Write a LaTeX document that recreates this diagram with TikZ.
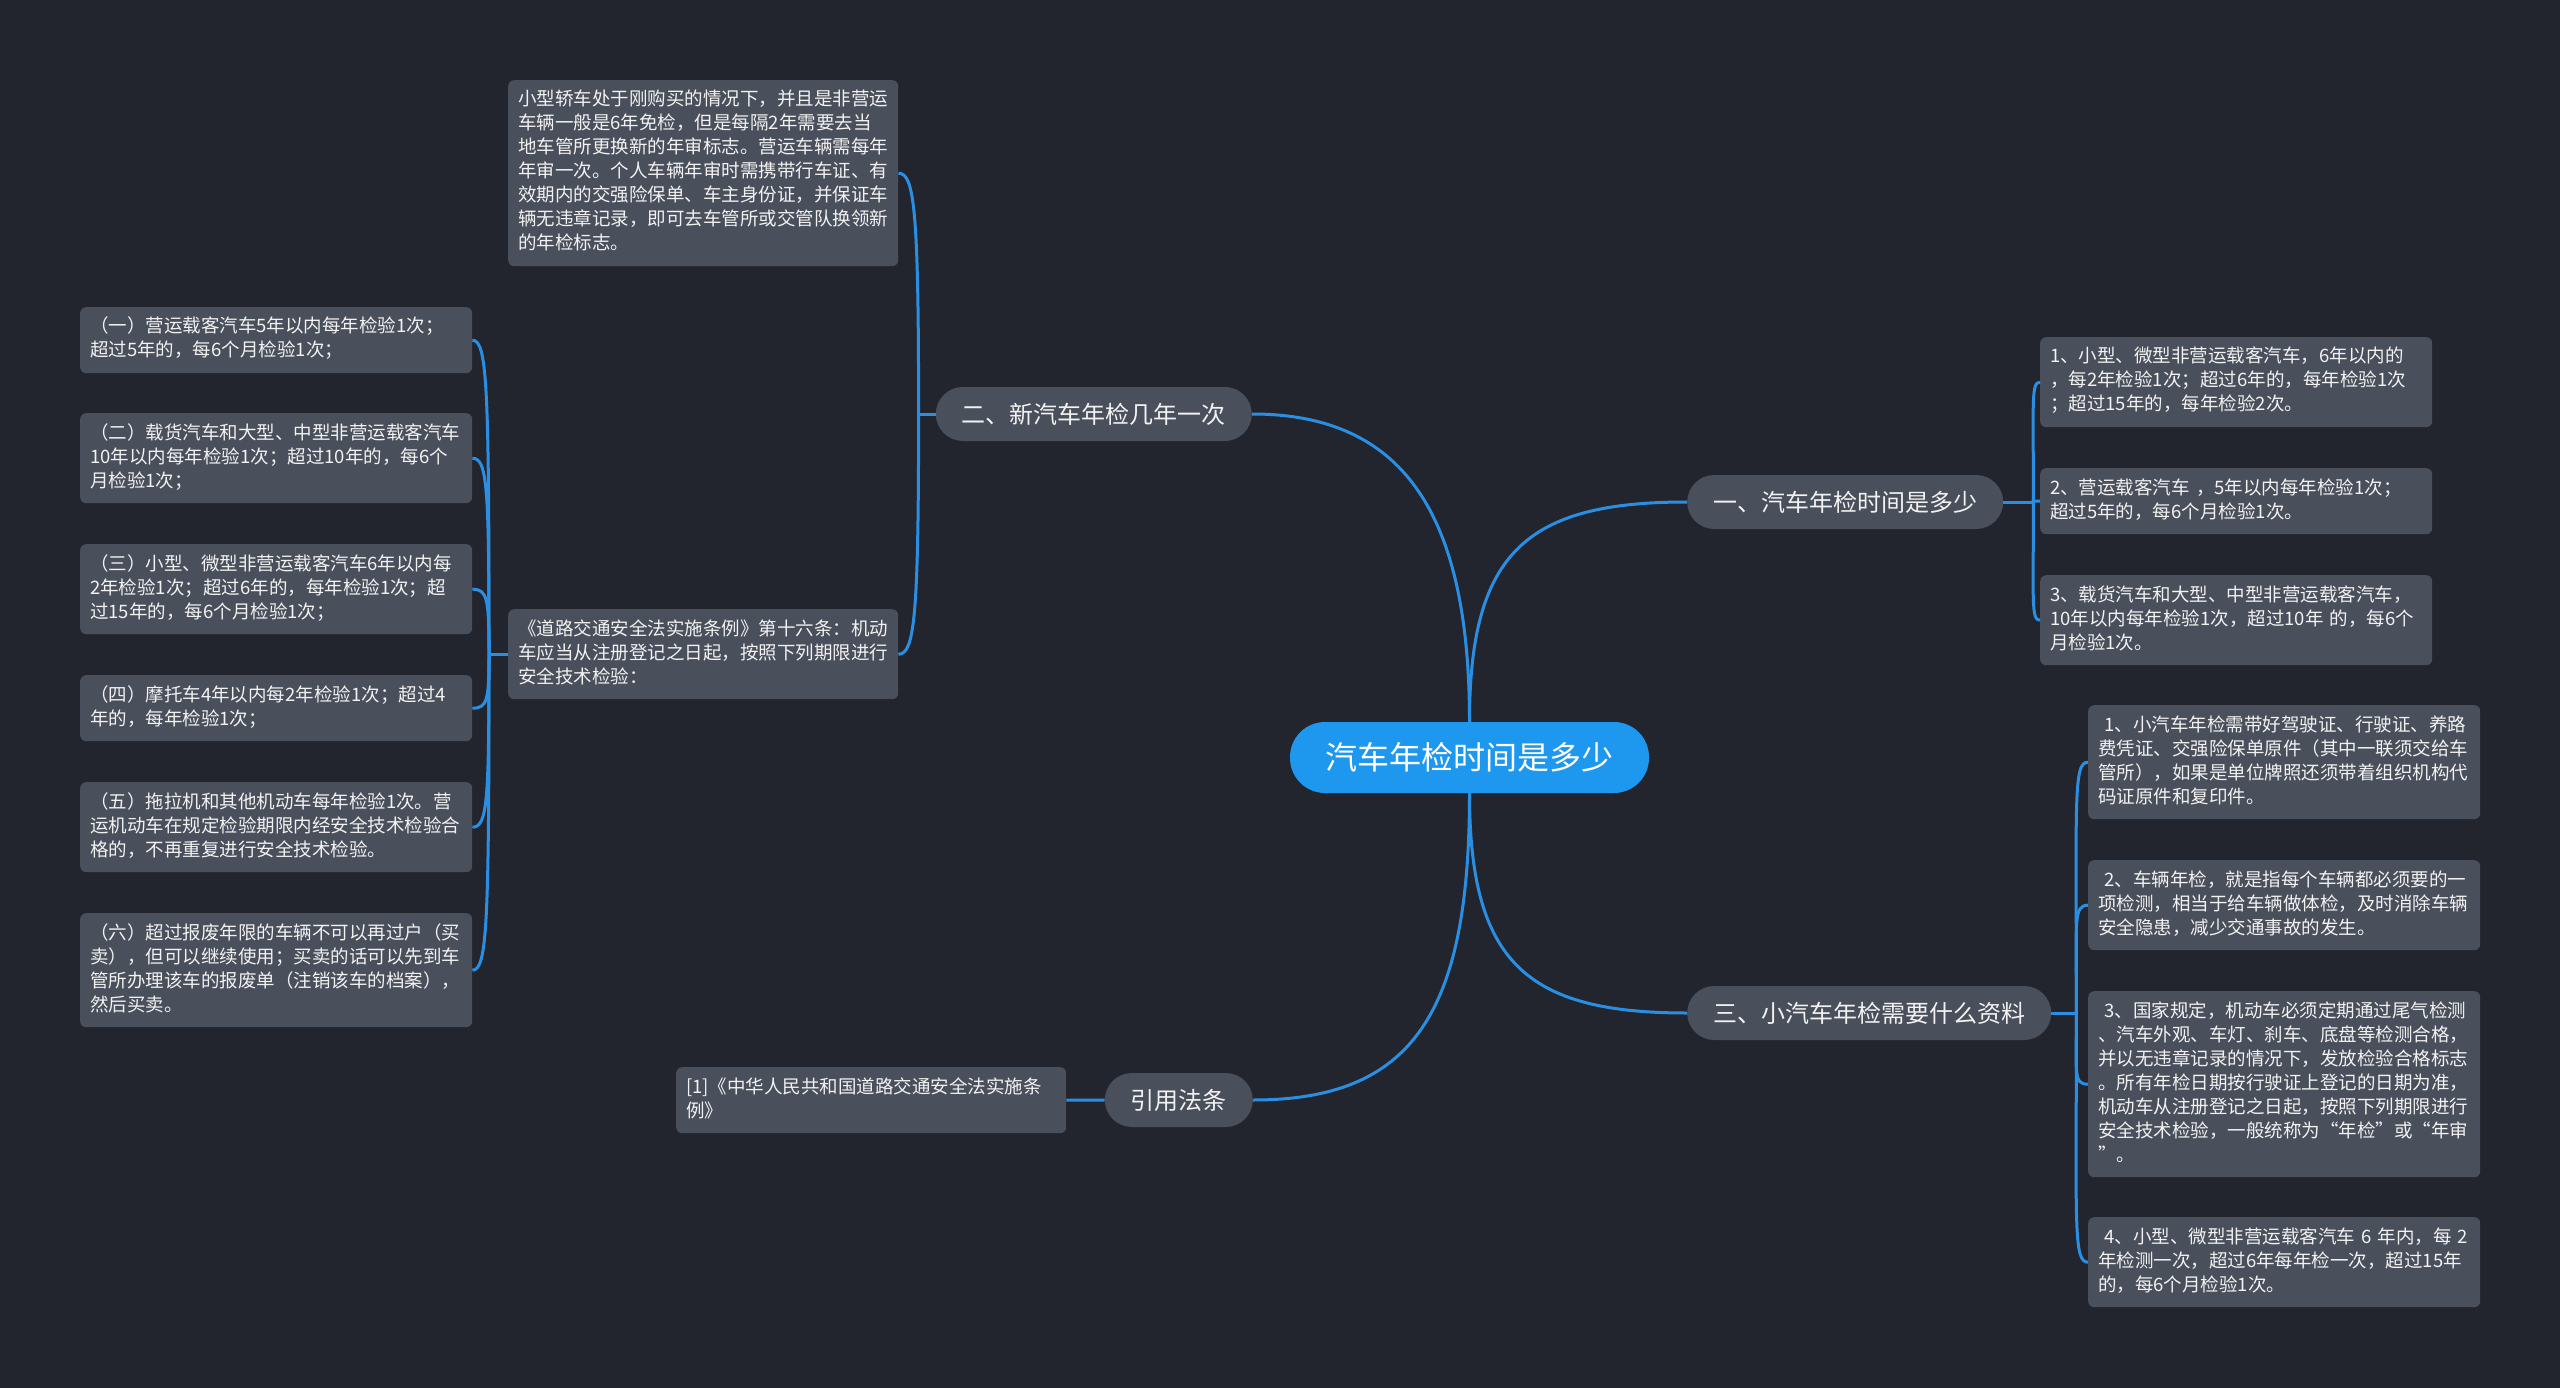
\documentclass[tikz,border=0pt]{standalone}
\usepackage{fontspec}
\usetikzlibrary{calc}
\newfontfamily\cjk{Noto Sans CJK SC}
\definecolor{bgc}{HTML}{22252E}
\definecolor{boxc}{HTML}{4A4F5C}
\definecolor{rootc}{HTML}{1E98EE}
\definecolor{linec}{HTML}{2A8FE3}
\definecolor{txtc}{HTML}{F2F2F2}
\begin{document}
\begin{tikzpicture}[x=1pt,y=-1pt,
	leaf/.style={fill=boxc, rounded corners=6pt, anchor=north west, text width=372pt, inner xsep=10pt, inner ysep=9pt, align=left, text=txtc, font=\cjk\fontsize{18.5}{24}\selectfont, execute at begin node=\strut, execute at end node=\strut},
	topic/.style={fill=boxc, rounded corners=27pt, minimum height=54pt, inner xsep=26pt, text=txtc, font=\cjk\fontsize{24}{28}\selectfont},
	root/.style={fill=rootc, rounded corners=35pt, minimum height=71pt, minimum width=359pt, text=white, font=\cjk\fontsize{32}{36}\selectfont},
	link/.style={draw=linec, line width=3pt}]
	\fill[bgc] (0,0) rectangle (2560,1388);
	\useasboundingbox (0,0) rectangle (2560,1388);
	
	% centre and main branches
	\node[root] (car) at (1469.5,757.5) {汽车年检时间是多少};
	\node[topic, anchor=west] (time) at (1687,502) {一、汽车年检时间是多少};
	\node[topic, anchor=east] (new) at (1252,414) {二、新汽车年检几年一次};
	\node[topic, anchor=west] (docs) at (1687,1013) {三、小汽车年检需要什么资料};
	\node[topic, anchor=east] (law) at (1253,1100) {引用法条};
	
	\draw[link] (car.north) .. controls +(0,-170) and +(-160,0) .. (time.west);
	\draw[link] (car.north) .. controls +(0,-210) and +(150,0) .. (new.east);
	\draw[link] (car.south) .. controls +(0,170) and +(-160,0) .. (docs.west);
	\draw[link] (car.south) .. controls +(0,220) and +(160,0) .. (law.east);
	
	% branch one
	\node[leaf] (t1) at (2040,337) {1、小型、微型非营运载客汽车，6年以内的\\，每2年检验1次；超过6年的，每年检验1次\\；超过15年的，每年检验2次。};
	\node[leaf] (t2) at (2040,468) {2、营运载客汽车 ，5年以内每年检验1次；\\超过5年的，每6个月检验1次。};
	\node[leaf] (t3) at (2040,575) {3、载货汽车和大型、中型非营运载客汽车，\\10年以内每年检验1次，超过10年 的，每6个\\月检验1次。};
	\coordinate (jt) at ([xshift=30pt]time.east);
	\draw[link] (time.east) -- (jt);
	\foreach \n in {t1,t2,t3}
		\draw[link] (jt) .. controls ($(jt)!.85!(jt |- \n.west)$) and ([xshift=-9pt]\n.west) .. (\n.west);
	
	% branch two
	\node[leaf, text width=370pt] (n1) at (508,80) {小型轿车处于刚购买的情况下，并且是非营运\\车辆一般是6年免检，但是每隔2年需要去当\\地车管所更换新的年审标志。营运车辆需每年\\年审一次。个人车辆年审时需携带行车证、有\\效期内的交强险保单、车主身份证，并保证车\\辆无违章记录，即可去车管所或交管队换领新\\的年检标志。};
	\node[leaf, text width=370pt] (n2) at (508,609) {《道路交通安全法实施条例》第十六条：机动\\车应当从注册登记之日起，按照下列期限进行\\安全技术检验：};
	\coordinate (jn) at ([xshift=-17pt]new.west);
	\draw[link] (new.west) -- (jn);
	\foreach \n in {n1,n2}
		\draw[link] (jn) .. controls ($(jn)!.85!(jn |- \n.east)$) and ([xshift=16pt]\n.east) .. (\n.east);
	
	\node[leaf] (a1) at (80,307) {（一）营运载客汽车5年以内每年检验1次；\\超过5年的，每6个月检验1次；};
	\node[leaf] (a2) at (80,413) {（二）载货汽车和大型、中型非营运载客汽车\\10年以内每年检验1次；超过10年的，每6个\\月检验1次；};
	\node[leaf] (a3) at (80,544) {（三）小型、微型非营运载客汽车6年以内每\\2年检验1次；超过6年的，每年检验1次；超\\过15年的，每6个月检验1次；};
	\node[leaf] (a4) at (80,675) {（四）摩托车4年以内每2年检验1次；超过4\\年的，每年检验1次；};
	\node[leaf] (a5) at (80,782) {（五）拖拉机和其他机动车每年检验1次。营\\运机动车在规定检验期限内经安全技术检验合\\格的，不再重复进行安全技术检验。};
	\node[leaf] (a6) at (80,913) {（六）超过报废年限的车辆不可以再过户（买\\卖），但可以继续使用；买卖的话可以先到车\\管所办理该车的报废单（注销该车的档案），\\然后买卖。};
	\coordinate (ja) at ([xshift=-19pt]n2.west);
	\draw[link] (n2.west) -- (ja);
	\foreach \n in {a1,a2,a3,a4,a5,a6}
		\draw[link] (ja) .. controls ($(ja)!.85!(ja |- \n.east)$) and ([xshift=15pt]\n.east) .. (\n.east);
	
	% branch three
	\node[leaf] (d1) at (2088,705) {\ 1、小汽车年检需带好驾驶证、行驶证、养路\\费凭证、交强险保单原件（其中一联须交给车\\管所），如果是单位牌照还须带着组织机构代\\码证原件和复印件。};
	\node[leaf] (d2) at (2088,860) {\ 2、车辆年检，就是指每个车辆都必须要的一\\项检测，相当于给车辆做体检，及时消除车辆\\安全隐患，减少交通事故的发生。};
	\node[leaf] (d3) at (2088,991) {\ 3、国家规定，机动车必须定期通过尾气检测\\、汽车外观、车灯、刹车、底盘等检测合格，\\并以无违章记录的情况下，发放检验合格标志\\。所有年检日期按行驶证上登记的日期为准，\\机动车从注册登记之日起，按照下列期限进行\\安全技术检验，一般统称为“年检”或“年审\\”。};
	\node[leaf] (d4) at (2088,1217) {\ 4、小型、微型非营运载客汽车 6 年内，每 2\\年检测一次，超过6年每年检一次，超过15年\\的，每6个月检验1次。};
	\coordinate (jd) at ([xshift=25pt]docs.east);
	\draw[link] (docs.east) -- (jd);
	\foreach \n in {d1,d2,d3,d4}
		\draw[link] (jd) .. controls ($(jd)!.85!(jd |- \n.west)$) and ([xshift=-15pt]\n.west) .. (\n.west);
	
	% law
	\node[leaf, text width=370pt] (l1) at (676,1067) {[1]《中华人民共和国道路交通安全法实施条\\例》};
	\draw[link] (law.west) -- (l1.east);
\end{tikzpicture}
\end{document}
